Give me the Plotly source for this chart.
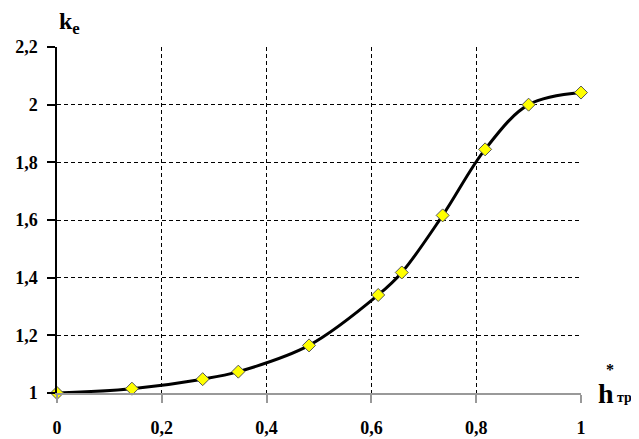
import plotly.graph_objects as go

h_tr = [0, 0.143, 0.278, 0.346, 0.481, 0.613, 0.658, 0.736, 0.817, 0.900, 1.0]
k_e = [1.0, 1.015, 1.048, 1.074, 1.165, 1.340, 1.418, 1.616, 1.845, 2.0, 2.042]

x_ticks = [0, 0.2, 0.4, 0.6, 0.8, 1.0]
x_labels = ["0", "0,2", "0,4", "0,6", "0,8", "1"]
y_ticks = [1.0, 1.2, 1.4, 1.6, 1.8, 2.0, 2.2]
y_labels = ["1", "1,2", "1,4", "1,6", "1,8", "2", "2,2"]

FONT = "Liberation Serif"

fig = go.Figure()
fig.add_trace(go.Scatter(
    x=h_tr, y=k_e, mode="lines+markers",
    line=dict(color="black", width=3, shape="spline", smoothing=1.0),
    marker=dict(symbol="diamond", size=10, color="#FFFF00",
                line=dict(color="#555555", width=1)),
    cliponaxis=False, showlegend=False,
))

fig.update_layout(
    width=631, height=431,
    margin=dict(l=49, r=58, t=39, b=46, autoexpand=False),
    plot_bgcolor="white", paper_bgcolor="white",
    font=dict(family=FONT, size=18, color="black"),
)
fig.update_xaxes(
    range=[0, 1], tickvals=x_ticks, ticktext=x_labels,
    showline=True, linecolor="#999999", linewidth=1.5,
    ticks="outside", ticklen=8, tickcolor="#999999", tickwidth=1.5,
    showgrid=True, gridcolor="#000000", gridwidth=1, griddash="4px,3px",
    zeroline=False, ticklabelstandoff=10, automargin=False,
    tickfont=dict(family=FONT, size=18, color="black", weight="bold"),
)
fig.update_yaxes(
    range=[1, 2.2], tickvals=y_ticks, ticktext=y_labels,
    showline=True, linecolor="black", linewidth=1.5,
    ticks="outside", ticklen=8, tickcolor="black", tickwidth=1.5,
    showgrid=True, gridcolor="#000000", gridwidth=1, griddash="4px,3px",
    zeroline=False, ticklabelstandoff=6, automargin=False,
    tickfont=dict(family=FONT, size=18, color="black", weight="bold"),
)

# axis titles as annotations
fig.add_annotation(
    text="<b>k<sub>e</sub></b>", xref="paper", yref="paper",
    x=0.0, y=1.07, xanchor="left", yanchor="middle", showarrow=False,
    font=dict(family=FONT, size=24, color="black"),
)
fig.add_annotation(
    text="<b>h</b>", xref="paper", yref="paper",
    x=1.028, y=0.0, xanchor="left", yanchor="middle", showarrow=False,
    font=dict(family=FONT, size=28, color="black"),
)
fig.add_annotation(
    text="<b>*</b>", xref="paper", yref="paper",
    x=1.043, y=0.068, xanchor="left", yanchor="middle", showarrow=False,
    font=dict(family=FONT, size=16, color="black"),
)
fig.add_annotation(
    text="<b>тр</b>", xref="paper", yref="paper",
    x=1.065, y=-0.012, xanchor="left", yanchor="middle", showarrow=False,
    font=dict(family=FONT, size=14, color="black"),
)

fig.write_html("out.html")
